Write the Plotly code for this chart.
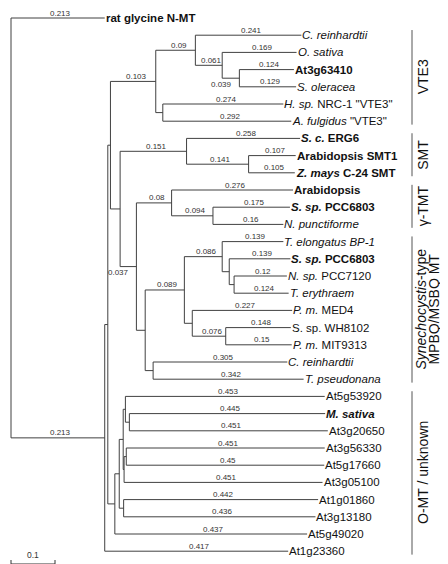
import plotly.graph_objects as go

# ---------------- data ----------------
leaf_labels = [
    "<b>rat glycine N-MT</b>", "<i>C. reinhardtii</i>", "<i>O. sativa</i>", "<b>At3g63410</b>",
    "<i>S. oleracea</i>", "<i>H. sp.</i> NRC-1 \"VTE3\"", "<i>A. fulgidus</i> \"VTE3\"",
    "<b><i>S. c.</i> ERG6</b>", "<b>Arabidopsis SMT1</b>", "<b><i>Z. mays</i> C-24 SMT</b>",
    "<b>Arabidopsis</b>", "<b><i>S. sp.</i> PCC6803</b>", "<i>N. punctiforme</i>",
    "<i>T. elongatus BP-1</i>", "<b><i>S. sp.</i> PCC6803</b>", "<i>N. sp.</i> PCC7120",
    "<i>T. erythraem</i>", "<i>P. m.</i> MED4", "S. sp. WH8102", "<i>P. m.</i> MIT9313",
    "<i>C. reinhardtii</i>", "<i>T. pseudonana</i>", "At5g53920", "<b><i>M. sativa</i></b>",
    "At3g20650", "At3g56330", "At5g17660", "At3g05100", "At1g01860", "At3g13180",
    "At5g49020", "At1g23360",
]
leaf_parent = [
    "root", "W", "Y", "Z", "Z", "X", "X", "SMT", "SN", "SN", "GT", "N", "N", "I", "K", "L",
    "L", "J", "M", "M", "H", "H", "U", "T", "T", "Wn", "Wn", "Xn", "S", "S", "P", "A",
]
leaf_length = [
    0.213, 0.241, 0.169, 0.124, 0.129, 0.274, 0.292, 0.258, 0.107, 0.105, 0.276, 0.175,
    0.16, 0.139, 0.139, 0.12, 0.124, 0.227, 0.148, 0.15, 0.305, 0.342, 0.453, 0.445,
    0.451, 0.451, 0.45, 0.451, 0.442, 0.436, 0.437, 0.417,
]

node_names = ["root", "A", "B", "C", "V", "W", "Y", "Z", "X", "D", "SMT", "SN", "E", "GT",
              "N", "F", "G", "I", "K", "L", "J", "M", "H", "P", "Q", "S", "Yn", "U", "T",
              "Xn", "Wn"]
node_parent = [None, "root", "A", "B", "C", "V", "W", "Y", "V", "C", "D", "SMT", "D", "E",
               "GT", "E", "F", "G", "I", "K", "G", "J", "F", "B", "P", "Q", "Q", "Yn", "U",
               "Yn", "Xn"]
node_length = [0.0, 0.213, 0.007, 0.006, 0.103, 0.09, 0.061, 0.039, 0.016, 0.022, 0.151,
               0.141, 0.037, 0.08, 0.094, 0.020, 0.089, 0.086, 0.016, 0.011, 0.018, 0.076,
               0.018, 0.016, 0.010, 0.010, 0.009, 0.005, 0.009, 0.002, 0.005]
node_length_shown = [False, True, False, False, True, True, True, True, False, False, True,
                     True, True, True, True, False, True, True, False, False, False, True,
                     False, False, False, False, False, False, False, False, False]

group_labels = [["VTE3"], ["SMT"], ["γ-TMT"],
                ["<i>Synechocystis</i>-type", "MPBQ/MSBQ MT"], ["O-MT / unknown"]]
group_first_leaf = [1, 7, 10, 13, 22]
group_last_leaf = [6, 9, 12, 21, 31]

scale_bar_value = 0.1

# ---------------- layout constants ----------------
W, H = 448, 564
X0, PXU = 3.0, 440.0        # root x pixel, pixels per unit branch length
Y0, ROW = 10.0, 17.2        # first leaf y pixel, pixels per row

def px_x(px):
    return (px - X0) / PXU

def px_y(py):
    return (py - Y0) / ROW

# ---------------- compute tree geometry ----------------
depth = {}
for name, par, ln in zip(node_names, node_parent, node_length):
    depth[name] = 0.0 if par is None else depth[par] + ln

children = {n: [] for n in node_names}
for i, p in enumerate(leaf_parent):
    children[p].append(("leaf", i))
for n, p in zip(node_names, node_parent):
    if p is not None:
        children[p].append(("node", n))

ypos = {}
leaf_y = list(range(len(leaf_labels)))
for n in reversed(node_names):
    ys = [leaf_y[c] if k == "leaf" else ypos[c] for k, c in children[n]]
    ypos[n] = (min(ys) + max(ys)) / 2.0

xs, ys = [], []
for n in node_names:
    cy = [leaf_y[c] if k == "leaf" else ypos[c] for k, c in children[n]]
    xs += [depth[n], depth[n], None]
    ys += [min(cy), max(cy), None]

annotations = []
FONT = "Liberation Sans, Arial, sans-serif"
label_font = dict(family=FONT, size=8, color="#333")
leaf_font = dict(family=FONT, size=11.5, color="#111")

def branch_label(x1, x2, y, value):
    if (x2 - x1) * PXU < 22:
        annotations.append(dict(x=x2 - 5 / PXU, y=y, text=str(value), showarrow=False,
                                xanchor="right", yanchor="middle", yshift=-6, font=label_font))
    else:
        annotations.append(dict(x=(x1 + x2) / 2, y=y, text=str(value), showarrow=False,
                                xanchor="center", yanchor="middle", xshift=3, yshift=5,
                                font=label_font))

for n, p, ln, shown in zip(node_names, node_parent, node_length, node_length_shown):
    if p is None:
        continue
    xs += [depth[p], depth[n], None]
    ys += [ypos[n], ypos[n], None]
    if shown:
        branch_label(depth[p], depth[n], ypos[n], ln)

for i, (lab, p, ln) in enumerate(zip(leaf_labels, leaf_parent, leaf_length)):
    xe = depth[p] + ln
    xs += [depth[p], xe, None]
    ys += [leaf_y[i], leaf_y[i], None]
    branch_label(depth[p], xe, leaf_y[i], ln)
    annotations.append(dict(x=xe, y=leaf_y[i], text=lab, showarrow=False, xanchor="left",
                            yanchor="middle", xshift=-1, font=leaf_font))

fig = go.Figure()
fig.add_trace(go.Scatter(x=xs, y=ys, mode="lines", line=dict(color="#404040", width=1),
                         hoverinfo="skip", showlegend=False))

# group brackets
bx = px_x(404)
gx = []
gy = []
for lines, a, b in zip(group_labels, group_first_leaf, group_last_leaf):
    y1, y2 = a - 0.3, b + 0.2
    gx += [bx, bx, None]
    gy += [y1, y2, None]
    n = len(lines)
    for j, line in enumerate(lines):
        cx = 415 if n == 1 else 413 + 13 * j
        annotations.append(dict(x=px_x(cx), y=(y1 + y2) / 2, text=line,
                                showarrow=False, textangle=-90, xanchor="center",
                                yanchor="middle", font=dict(family=FONT, size=14, color="#111")))
fig.add_trace(go.Scatter(x=gx, y=gy, mode="lines", line=dict(color="#555", width=1),
                         hoverinfo="skip", showlegend=False))

# scale bar
sy = px_y(556)
tk = 4 / ROW
fig.add_trace(go.Scatter(x=[0, scale_bar_value, None, 0, 0, None, scale_bar_value, scale_bar_value],
                         y=[sy, sy, None, sy - tk, sy + tk, None, sy - tk, sy + tk],
                         mode="lines", line=dict(color="#333", width=1), hoverinfo="skip",
                         showlegend=False))
annotations.append(dict(x=scale_bar_value / 2, y=sy, text=str(scale_bar_value), showarrow=False,
                        xanchor="center", yanchor="bottom", yshift=2,
                        font=dict(family=FONT, size=8.5, color="#333")))

fig.update_layout(
    width=W, height=H, margin=dict(l=0, r=0, t=0, b=0),
    paper_bgcolor="white", plot_bgcolor="white",
    xaxis=dict(range=[px_x(0), px_x(W)], visible=False, fixedrange=True),
    yaxis=dict(range=[px_y(H), px_y(0)], visible=False, fixedrange=True),
    annotations=annotations, showlegend=False,
)
fig.write_html("out.html")
